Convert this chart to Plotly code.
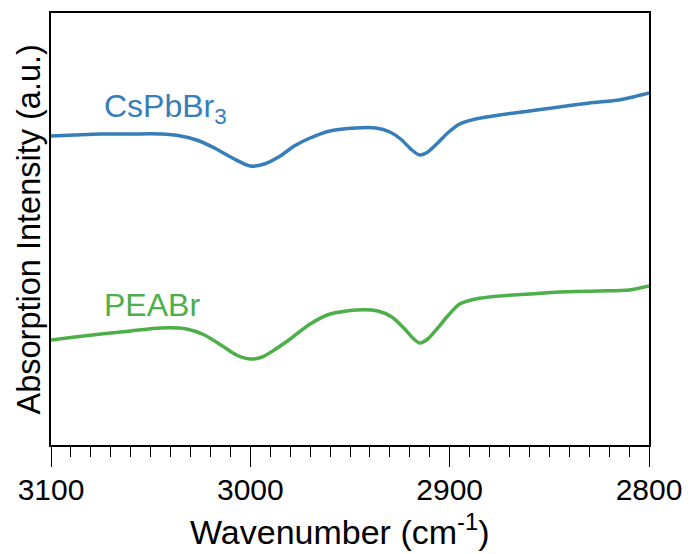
import plotly.graph_objects as go

# Wavenumber (cm^-1) and absorption intensity (a.u.)
wn_cspbbr3 = [3100, 3088, 3075, 3060, 3045, 3035, 3027, 3018, 3009, 3000, 2993, 2985,
              2978, 2970, 2960, 2947, 2937, 2930, 2924, 2919, 2915, 2911, 2906, 2901,
              2895, 2887, 2875, 2860, 2845, 2830, 2815, 2808, 2800]
int_cspbbr3 = [309, 310, 311, 311, 311, 309, 305, 297, 287, 279, 281, 289,
               299, 307, 314, 317, 317, 313, 305, 295, 290, 293, 302, 312,
               321, 326, 330, 334, 338, 342, 345, 348, 352]

wn_peabr = [3100, 3088, 3075, 3060, 3045, 3032, 3023, 3014, 3007, 3000, 2994, 2988,
            2980, 2970, 2960, 2947, 2936, 2929, 2923, 2918, 2915, 2911, 2906, 2901,
            2895, 2887, 2875, 2860, 2845, 2825, 2810, 2800]
int_peabr = [105, 108, 111, 114, 117, 116, 110, 99, 90, 86, 88, 95,
             106, 121, 131, 135, 134, 128, 117, 106, 102, 106, 117, 129,
             141, 146, 149, 151, 153, 154, 155, 159]

x_ticks = [3100, 3000, 2900, 2800]
labels = ["CsPbBr<sub>3</sub>", "PEABr"]
colors = ["#377eb8", "#4daf4a"]
x_title = "Wavenumber (cm<sup>-1</sup>)"
y_title = "Absorption Intensity (a.u.)"

FONT = "Liberation Sans, Arial, Helvetica, sans-serif"

fig = go.Figure()
for wn, val, name, col in [(wn_cspbbr3, int_cspbbr3, labels[0], colors[0]),
                           (wn_peabr, int_peabr, labels[1], colors[1])]:
    fig.add_trace(go.Scatter(x=wn, y=val, mode="lines", name=name,
                             line=dict(color=col, width=3.5, shape="spline", smoothing=0.7),
                             showlegend=False))

# series labels
fig.add_annotation(x=0.085, y=0.78, xref="paper", yref="paper", text=labels[0],
                   showarrow=False, xanchor="left", yanchor="middle",
                   font=dict(size=32, color=colors[0], family=FONT))
fig.add_annotation(x=0.085, y=0.325, xref="paper", yref="paper", text=labels[1],
                   showarrow=False, xanchor="left", yanchor="middle",
                   font=dict(size=32, color=colors[1], family=FONT))

# axis titles
fig.add_annotation(x=0.483, y=-0.196, xref="paper", yref="paper", text=x_title,
                   showarrow=False, xanchor="center", yanchor="middle",
                   font=dict(size=34, color="black", family=FONT))
fig.add_annotation(x=-0.036, y=0.5, xref="paper", yref="paper", text=y_title,
                   showarrow=False, xanchor="center", yanchor="middle", textangle=-90,
                   font=dict(size=32.5, color="black", family=FONT))

fig.update_layout(
    width=682, height=546,
    margin=dict(l=43, r=41, t=5, b=109),
    paper_bgcolor="white", plot_bgcolor="white",
    font=dict(family=FONT, size=30, color="black"),
    xaxis=dict(
        range=[3100, 2800], showgrid=False, zeroline=False, automargin=False,
        showline=True, linecolor="black", linewidth=1.5, mirror=True,
        tickmode="array", tickvals=x_ticks, ticktext=[str(t) for t in x_ticks],
        ticks="outside", ticklen=20, tickwidth=1.2, tickcolor="black",
        ticklabelstandoff=-3,
        minor=dict(dtick=10, ticks="outside", ticklen=10, tickwidth=1.2, tickcolor="black", showgrid=False),
        tickfont=dict(size=30, family=FONT),
    ),
    yaxis=dict(
        range=[0, 432], showgrid=False, zeroline=False, automargin=False,
        showline=True, linecolor="black", linewidth=1.5, mirror=True,
        showticklabels=False, ticks="",
    ),
)

fig.write_html("out.html")
